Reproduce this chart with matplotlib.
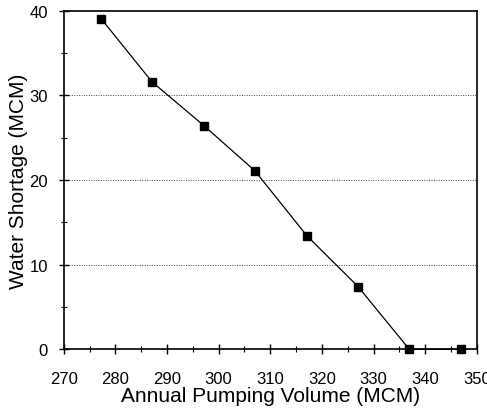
import matplotlib
matplotlib.use("Agg")
import matplotlib.pyplot as plt
from matplotlib.ticker import MultipleLocator

pumping = [277.2, 287.1, 297.2, 307.0, 317.1, 327.0, 336.9, 346.9]
shortage = [39.1, 31.6, 26.4, 21.1, 13.4, 7.4, 0.0, 0.0]

plt.rcParams['font.family'] = ['Liberation Sans', 'DejaVu Sans']

fig = plt.figure(figsize=(4.87, 4.10), dpi=100)
ax = fig.add_axes([0.131, 0.146, 0.848, 0.825])

ax.plot(pumping, shortage, color='black', linewidth=0.9, marker='s',
        markersize=6, markerfacecolor='black', markeredgecolor='black', zorder=3, clip_on=False)

ax.set_xlim(270, 350)
ax.set_ylim(0, 40)
ax.xaxis.set_major_locator(MultipleLocator(10))
ax.xaxis.set_minor_locator(MultipleLocator(5))
ax.yaxis.set_major_locator(MultipleLocator(10))
ax.yaxis.set_minor_locator(MultipleLocator(5))
ax.tick_params(axis='both', which='major', direction='inout', length=7, width=1,
               labelsize=12, colors='black')
ax.tick_params(axis='x', which='major', pad=12)
ax.tick_params(axis='y', which='major', pad=8)
ax.tick_params(axis='both', which='minor', direction='inout', length=5, width=0.8)

for y in [10, 20, 30]:
    ax.axhline(y, color='#444444', linestyle=(0, (1, 1.5)), linewidth=0.7, zorder=1)

for s in ax.spines.values():
    s.set_linewidth(1.2)

ax.set_xlabel('Annual Pumping Volume (MCM)', fontsize=15, labelpad=0)
ax.set_ylabel('Water Shortage (MCM)', fontsize=15, labelpad=1)

fig.savefig('out.png', dpi=100)
